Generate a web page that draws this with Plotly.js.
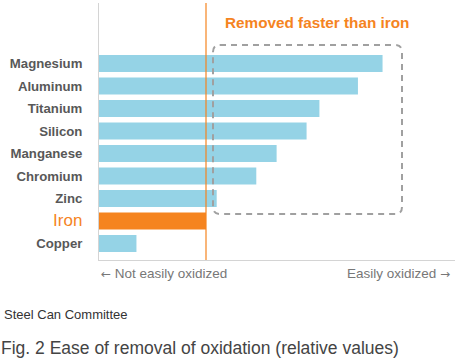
<!DOCTYPE html>
<html><head><meta charset="utf-8">
<script src="https://cdn.plot.ly/plotly-3.0.1.min.js"></script>
<style>html,body{margin:0;padding:0;background:#fff}#c{width:460px;height:359px}</style>
</head><body><div id="c"></div>
<script>
// Data (relative values, iron = 100)
const metals = ["Magnesium","Aluminum","Titanium","Silicon","Manganese","Chromium","Zinc","Iron","Copper"];
const values = [265, 242, 206, 194, 166, 147, 110, 100, 35];
const referenceMetal = "Iron";
const calloutText = "Removed faster than iron";
const leftAxisNote = "Not easily oxidized";
const rightAxisNote = "Easily oxidized";
const sourceText = "Steel Can Committee";
const captionText = "Fig. 2 Ease of removal of oxidation (relative values)";

const W = 460, H = 359;
const L = 99, R = 5, T = 3, B = 99;
const pw = W - L - R, ph = H - T - B;
const px = x => (x - L) / pw;
const py = y => (H - B - y) / ph;

const blue = "#95d3e6", orange = "#f5841f";
const colors = metals.map(m => m === referenceMetal ? orange : blue);
const refVal = values[metals.indexOf(referenceMetal)];
const tickText = metals.map(m => m === referenceMetal
  ? '<span style="color:#f5841f;font-size:17px;font-weight:normal">' + m + '</span>' : m);
const arrow = ch => '<span style="font-family:DejaVu Sans;font-size:12px">' + ch + '</span>';

// rounded dashed box path (paper coords)
function roundBox(x0, y0, x1, y1, r) {
  const rx = r / pw, ry = r / ph;
  const a = px(x0), b = px(x1), top = py(y0), bot = py(y1);
  return `M${a+rx},${top} L${b-rx},${top} Q${b},${top} ${b},${top-ry} L${b},${bot+ry} Q${b},${bot} ${b-rx},${bot} L${a+rx},${bot} Q${a},${bot} ${a},${bot+ry} L${a},${top-ry} Q${a},${top} ${a+rx},${top} Z`;
}

const trace = {
  type: "bar", orientation: "h",
  y: metals, x: values,
  marker: {color: colors, line: {width: 0}},
  hoverinfo: "none"
};

const layout = {
  width: W, height: H,
  margin: {l: L, r: R, t: T, b: B},
  paper_bgcolor: "#fff", plot_bgcolor: "#fff",
  showlegend: false,
  bargap: 0.245,
  font: {family: "Liberation Sans, Arial, sans-serif", color: "#555"},
  xaxis: {range: [0, 100 * pw / 107], showgrid: false, zeroline: false,
          showticklabels: false, ticks: "", showline: true, linecolor: "#d4d4d4", linewidth: 1, fixedrange: true},
  yaxis: {type: "category", range: [8.73, -2.69], showgrid: false, zeroline: false,
          tickvals: metals, ticktext: tickText, ticks: "", ticklabelstandoff: 13,
          tickfont: {size: 13.2, color: "#585858", weight: "bold"},
          showline: true, linecolor: "#d4d4d4", linewidth: 1, fixedrange: true},
  shapes: [
    {type: "line", xref: "x", yref: "paper", x0: refVal, x1: refVal, y0: 0, y1: 1,
     line: {color: orange, width: 1.2}},
    {type: "path", xref: "paper", yref: "paper", path: roundBox(213, 45, 402, 214, 7),
     line: {color: "#a0a0a0", width: 2, dash: "6px,5px"}}
  ],
  annotations: [
    {text: calloutText, xref: "paper", yref: "paper", x: px(223), y: py(23), xanchor: "left", yanchor: "middle",
     showarrow: false, font: {size: 15.3, color: "#f5841f", weight: "bold"}},
    {text: arrow("\u2190") + " " + leftAxisNote, xref: "paper", yref: "paper", x: px(99), y: py(273), xanchor: "left", yanchor: "middle",
     showarrow: false, font: {size: 13.5, color: "#777"}},
    {text: rightAxisNote + " " + arrow("\u2192"), xref: "paper", yref: "paper", x: px(452), y: py(273), xanchor: "right", yanchor: "middle",
     showarrow: false, font: {size: 13.5, color: "#777"}},
    {text: sourceText, xref: "paper", yref: "paper", x: px(2), y: py(314), xanchor: "left", yanchor: "middle",
     showarrow: false, font: {size: 13, color: "#333"}},
    {text: captionText, xref: "paper", yref: "paper", x: px(-1), y: py(348), xanchor: "left", yanchor: "middle",
     showarrow: false, font: {size: 17.5, color: "#444"}}
  ]
};

Plotly.newPlot("c", [trace], layout, {staticPlot: true, displayModeBar: false});
</script></body></html>
